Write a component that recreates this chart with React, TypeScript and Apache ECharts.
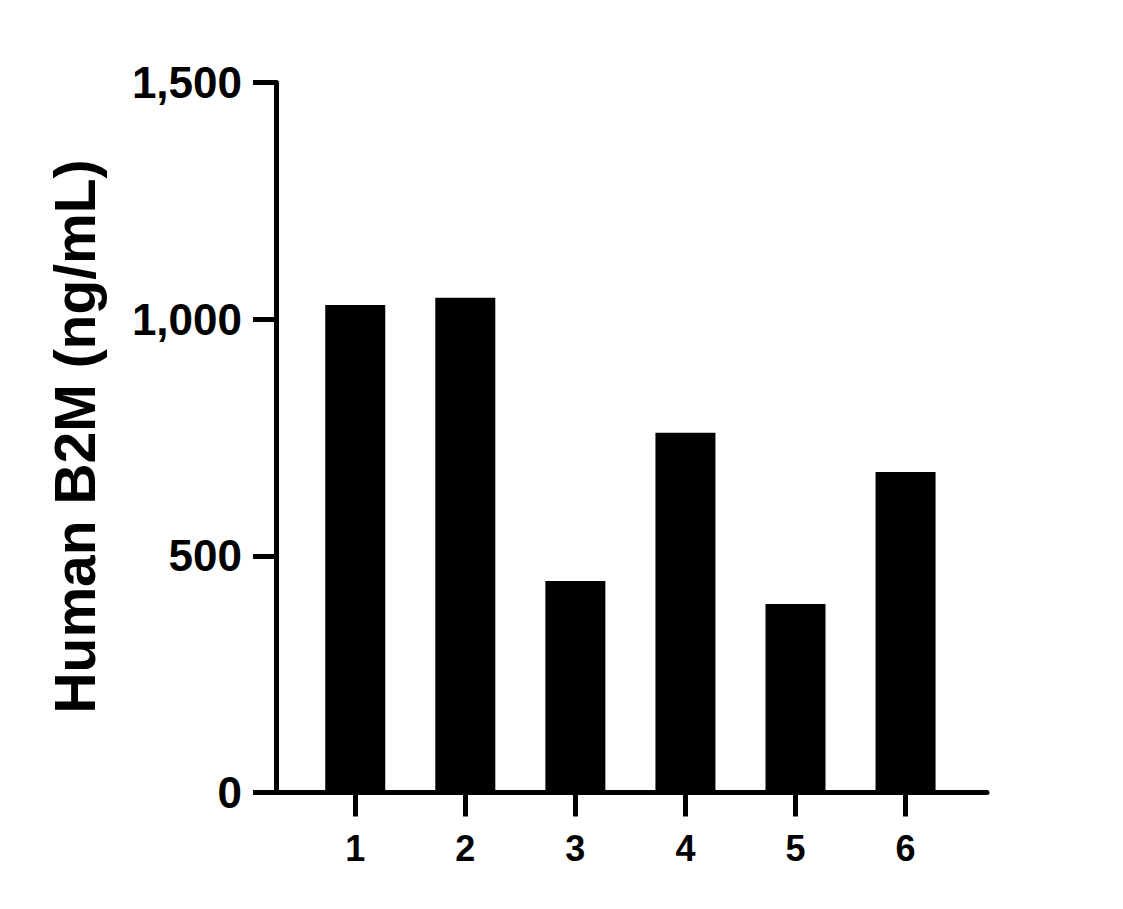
import React, { useEffect, useRef } from "react";
import * as echarts from "echarts";

const categories = [1, 2, 3, 4, 5, 6];
const values = [1030, 1045, 447, 760, 398, 677];
const yTicks = [0, 500, 1000, 1500];
const yTitle = "Human B2M (ng/mL)";

const FONT = "'Liberation Sans', Arial, Helvetica, sans-serif";

export default function App() {
  const ref = useRef<HTMLDivElement>(null);
  useEffect(() => {
    if (!ref.current) return;
    const chart = echarts.init(ref.current, null, { renderer: "svg" });
    chart.setOption({
      animation: false,
      backgroundColor: "#ffffff",
      grid: { left: 276, right: 136, top: 82.5, bottom: 116.5, containLabel: false },
      xAxis: {
        type: "value",
        min: 0.28,
        max: 6.74,
        splitLine: { show: false },
        axisLine: { show: true, lineStyle: { color: "#000", width: 5 } },
        axisTick: {
          show: true,
          length: 24,
          customValues: categories,
          lineStyle: { color: "#000", width: 5 },
        },
        axisLabel: {
          show: true,
          customValues: categories,
          margin: 38,
          color: "#000",
          fontSize: 36,
          fontWeight: "bold",
          fontFamily: FONT,
          formatter: (v: number) => String(v),
        },
      },
      yAxis: {
        type: "value",
        min: yTicks[0],
        max: yTicks[yTicks.length - 1],
        interval: 500,
        splitLine: { show: false },
        axisLine: { show: true, lineStyle: { color: "#000", width: 5 } },
        axisTick: { show: true, length: 23, lineStyle: { color: "#000", width: 5 } },
        axisLabel: {
          margin: 34,
          color: "#000",
          fontSize: 44,
          fontWeight: "bold",
          fontFamily: FONT,
          formatter: (v: number) => v.toLocaleString("en-US"),
        },
      },
      graphic: [
        {
          type: "text",
          x: 75,
          y: 436.5,
          rotation: Math.PI / 2,
          style: {
            text: yTitle,
            fill: "#000",
            fontSize: 57,
            fontWeight: "bold",
            fontFamily: FONT,
            textAlign: "center",
            textVerticalAlign: "middle",
          },
        },
      ],
      series: [
        {
          type: "bar",
          data: categories.map((c, i) => [c, values[i]]),
          barWidth: 60,
          itemStyle: { color: "#000" },
          z: 1,
        },
      ],
    });
    return () => chart.dispose();
  }, []);
  return (
    <div
      ref={ref}
      style={{ position: "fixed", left: 0, top: 0, width: 1123, height: 909, background: "#fff" }}
    />
  );
}
